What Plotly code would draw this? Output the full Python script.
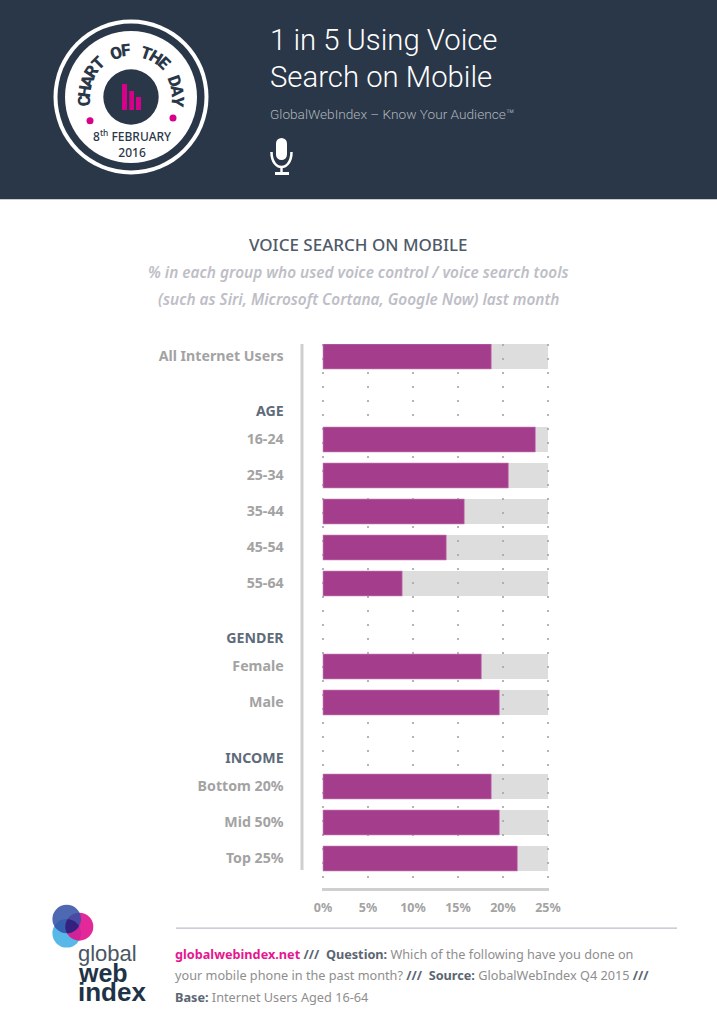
import math
import plotly.graph_objects as go

W, H = 717, 1024

# ---- data ----
row_labels = ["All Internet Users", "AGE", "16-24", "25-34", "35-44", "45-54", "55-64",
              "GENDER", "Female", "Male", "INCOME", "Bottom 20%", "Mid 50%", "Top 25%"]
row_is_header = [False, True, False, False, False, False, False,
                 True, False, False, True, False, False, False]
bar_values = [18.7, None, 23.6, 20.6, 15.7, 13.7, 8.8,
              None, 17.6, 19.6, None, 18.7, 19.6, 21.6]
axis_max = [25, None, 25, 25, 25, 25, 25, None, 25, 25, None, 25, 25, 25]
x_ticks = [0, 5, 10, 15, 20, 25]
x_tick_labels = ["0%", "5%", "10%", "15%", "20%", "25%"]

# vertical spacing of rows (layout, in pixels between row centres)
row_gaps = [0, 55, 28, 36, 36, 36, 36, 55, 28, 36, 56, 28, 36, 36]
row_y = []
_c = 356.5
for g in row_gaps:
    _c += g
    row_y.append(_c)

NAVY = "#2A3748"
PURPLE = "#A43E8C"
LABEL = "#A3A3A3"
HEAD = "#5E6B7A"
MAG = "#D6008A"
FONT = "Noto Sans"


def px(x):
    return x / W


def py(y):
    return 1 - y / H


shapes = []
annos = []


def rect(x0, y0, x1, y1, color, **k):
    shapes.append(dict(type="rect", xref="paper", yref="paper", x0=px(x0), x1=px(x1),
                       y0=py(y1), y1=py(y0), fillcolor=color, line=dict(width=0), **k))


def circ(cx, cy, r, color, **k):
    rect(cx - r, cy - r, cx + r, cy + r, color, **k)
    shapes[-1]["type"] = "circle"


def text(x, y, s, size, color, anchor="left", family=FONT, **k):
    annos.append(dict(xref="paper", yref="paper", x=px(x), y=py(y), text=s, showarrow=False,
                      xanchor=anchor, yanchor="middle", align=anchor,
                      font=dict(size=size, color=color, family=family, weight=k.pop("weight", 400),
                                style=k.pop("style", "normal")), **k))


# header band
rect(0, 0, W, 199, NAVY)
rect(0, 199, W, 200, "#C9CDD2")

# badge
CX, CY = 131, 97
circ(CX, CY, 77.5, "white")
circ(CX, CY, 73.5, NAVY)
circ(CX, CY, 66, "white")
circ(CX, CY, 27.7, NAVY)
rect(122, 84, 127, 110, MAG)
rect(129.3, 91, 134, 110, MAG)
rect(136, 97, 141, 110, MAG)
circ(90, 120.7, 3.5, MAG)
circ(173, 118, 3.5, MAG)
badge = "CHART OF THE DAY"
R = 47
step = 190 / (len(badge) - 1)
for i, ch in enumerate(badge):
    if ch == " ":
        continue
    a = -95 + i * step
    x = CX + R * math.sin(math.radians(a))
    y = CY - R * math.cos(math.radians(a))
    text(x, y, ch, 17, NAVY, anchor="center", family="Roboto", weight=900, textangle=a)
text(CX + 1, 144, "8<sup>th</sup> FEBRUARY<br>2016", 12, NAVY, anchor="center", weight=500)

# title
text(268, 40, "1 in 5 Using Voice", 29.3, "white", family="Roboto", weight=300)
text(268, 77, "Search on Mobile", 29.3, "white", family="Roboto", weight=300)
text(268, 114, "GlobalWebIndex – Know Your Audience™", 13.65, "#AEB4BB", family="Roboto", weight=300)

# microphone
rect(276, 143.5, 287, 154.5, "white")
circ(281.5, 143.5, 5.5, "white")
circ(281.5, 154.5, 5.5, "white")
shapes.append(dict(type="path", xref="paper", yref="paper",
                   path="M %f,%f C %f,%f %f,%f %f,%f" % (px(271.5), py(152), px(271.5), py(172),
                                                         px(291.5), py(172), px(291.5), py(152)),
                   line=dict(color="white", width=2.5)))
rect(280.3, 166, 282.7, 173, "white")
rect(275, 172, 289, 175, "white")

# chart heading
text(358, 244, "VOICE SEARCH ON MOBILE", 17, "#4E5A68", anchor="center", weight=500)
text(358, 272, "% in each group who used voice control / voice search tools", 15.4, "#BEBEC6",
     anchor="center", weight=600, style="italic")
text(358, 299, "(such as Siri, Microsoft Cortana, Google Now) last month", 15.4, "#BEBEC6",
     anchor="center", weight=600, style="italic")

# y axis rule
rect(300.5, 344, 303.5, 870, "#CFCFCF")

# footer
rect(176, 927.5, 677, 928.7, "#BDBDCB")
BODY = "#8E8E8E"
DK = "#5B6672"
text(173, 954, "<b style='color:%s'><span style='color:#E5178F'>globalwebindex.net</span> <span style='color:%s'>///  Question:</span></b> Which of the following have you done on" % (DK, DK),
     12.7, BODY)
text(173, 975, "your mobile phone in the past month? <b><span style='color:%s'>///  Source:</span></b> GlobalWebIndex Q4 2015 <b><span style='color:%s'>///</span></b>" % (DK, DK),
     12.7, BODY)
text(173, 997, "<b><span style='color:%s'>Base:</span></b> Internet Users Aged 16-64" % DK, 12.7, BODY)

# logo
logo_c = [(66.7, 933.3, 14.3), (79.3, 926.7, 14.0), (66.7, 919.0, 14.3)]
circ(*logo_c[0], "#4FB4E6", opacity=0.95)
circ(*logo_c[1], "#E0128F", opacity=0.9)
circ(*logo_c[2], "#2F4FA5", opacity=0.85)
# triple overlap of the three discs
_ox, _oy = 71.5, 926.0
_pts = []
for d in range(0, 360, 12):
    t = math.radians(d)
    r = 0.0
    while all(math.hypot(_ox + (r + .1) * math.cos(t) - c[0], _oy + (r + .1) * math.sin(t) - c[1]) <= c[2]
              for c in logo_c) and r < 30:
        r += .1
    _pts.append((_ox + r * math.cos(t), _oy + r * math.sin(t)))
shapes.append(dict(type="path", xref="paper", yref="paper", fillcolor="#33207F", line=dict(width=0),
                   path="M" + " L".join("%f,%f" % (px(a), py(b)) for a, b in _pts) + " Z"))
text(76, 953, "global", 22, "#4A5763", family="Liberation Sans", weight=300)
text(76, 973, "web", 25, "#1F3347", family="Liberation Sans", weight=700)
text(76, 992, "index", 26, "#1F3347", family="Liberation Sans", weight=700)

tick_text = [
    "<span style='color:%s'><b>%s</b></span>" % (HEAD if h else LABEL, t)
    for t, h in zip(row_labels, row_is_header)
]

fig = go.Figure()
fig.add_bar(y=row_y, x=axis_max, orientation="h", width=25, marker=dict(color="rgba(170,170,170,0.4)", line_width=0),
            hoverinfo="skip", showlegend=False)
fig.add_bar(y=row_y, x=bar_values, orientation="h", width=25,
            marker=dict(color=PURPLE, line=dict(width=0.6, color="#C98ABA")), showlegend=False)

# small overscan so the 0% and 25% grid lines are kept
PAD = 0.15
fig.update_layout(
    width=W, height=H, margin=dict(l=0, r=0, t=0, b=0, pad=0, autoexpand=False),
    paper_bgcolor="white", plot_bgcolor="rgba(0,0,0,0)", barmode="overlay",
    shapes=shapes, annotations=annos, font=dict(family=FONT),
    xaxis=dict(domain=[px(323 - PAD * 9), px(548 + PAD * 9)], range=[-PAD, 25 + PAD],
               tickvals=x_ticks, ticktext=x_tick_labels,
               showgrid=True, gridcolor="#B4B4B4", gridwidth=1.5, griddash="1.5px,12.5px", zeroline=False,
               showline=True, linecolor="#CFCFCF", linewidth=3, ticks="", ticklabelstandoff=6,
               tickfont=dict(size=12.5, color=LABEL, family=FONT, weight=700)),
    yaxis=dict(domain=[py(888), py(344)], range=[888, 344], tickvals=row_y, ticktext=tick_text,
               showgrid=False, zeroline=False, ticks="", ticklabelstandoff=37,
               tickfont=dict(size=14.2, color=LABEL, family=FONT)),
)
fig.write_html("out.html", config=dict(displayModeBar=False),
               post_script="document.body.style.margin='0';")
